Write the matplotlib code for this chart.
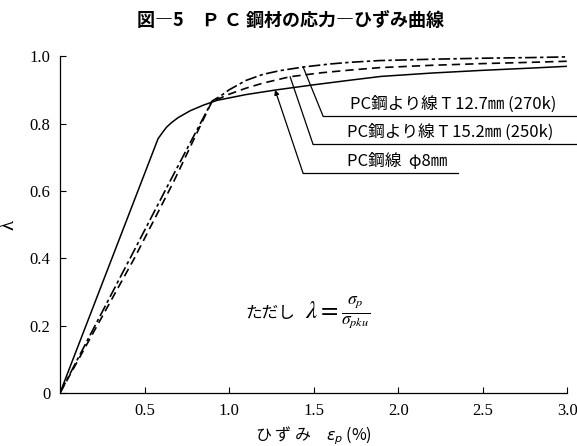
import matplotlib
matplotlib.use("Agg")
import matplotlib.pyplot as plt

# ---- data ----
eps_phi8 = [0, 0.58, 0.61, 0.63, 0.66, 0.70, 0.77, 0.85, 0.93, 1.10, 1.28, 1.50, 1.72, 1.90, 2.20, 2.50, 2.80, 3.00]
lam_phi8 = [0, 0.755, 0.776, 0.789, 0.803, 0.818, 0.838, 0.855, 0.869, 0.886, 0.900, 0.915, 0.929, 0.940, 0.950, 0.958, 0.965, 0.970]

eps_t127 = [0, 0.42, 0.65, 0.90, 0.95, 1.00, 1.10, 1.20, 1.30, 1.44, 1.60, 1.72, 1.89, 2.20, 2.50, 2.80, 3.00]
lam_t127 = [0, 0.405, 0.628, 0.867, 0.882, 0.900, 0.928, 0.946, 0.957, 0.968, 0.977, 0.982, 0.987, 0.991, 0.994, 0.996, 0.998]

eps_t152 = [0, 0.44, 0.67, 0.90, 0.95, 1.00, 1.10, 1.20, 1.36, 1.55, 1.72, 1.89, 2.20, 2.50, 2.80, 3.00]
lam_t152 = [0, 0.40, 0.625, 0.867, 0.876, 0.887, 0.905, 0.920, 0.939, 0.951, 0.959, 0.966, 0.973, 0.978, 0.982, 0.985]

labels = ["PC鋼より線 T 12.7㎜ (270k)", "PC鋼より線 T 15.2㎜ (250k)", "PC鋼線  φ8㎜"]
xticks = [0.5, 1.0, 1.5, 2.0, 2.5, 3.0]
xticklabels = ["0.5", "1.0", "1.5", "2.0", "2.5", "3.0"]
yticks = [0, 0.2, 0.4, 0.6, 0.8, 1.0]
yticklabels = ["0", "0.2", "0.4", "0.6", "0.8", "1.0"]

CJK = ["Noto Sans CJK JP", "DejaVu Sans"]
SERIF = ["Liberation Serif", "DejaVu Serif"]

fig = plt.figure(figsize=(5.77, 4.46), dpi=100)
ax = fig.add_axes([0.104, 0.119, 0.879, 0.755])

ax.plot(eps_phi8, lam_phi8, color="black", lw=1.1, solid_joinstyle="round")
ax.plot(eps_t127, lam_t127, color="black", lw=1.2, dashes=(7, 2, 2, 2))
ax.plot(eps_t152, lam_t152, color="black", lw=1.2, dashes=(5, 3))

ax.set_xlim(0, 3.0)
ax.set_ylim(0, 1.0)
for s in ["top", "right"]:
    ax.spines[s].set_visible(False)
ax.spines["left"].set_linewidth(0.9)
ax.spines["bottom"].set_linewidth(0.9)
ax.tick_params(direction="in", length=4, width=0.8, pad=7)
ax.set_xticks(xticks)
ax.set_xticklabels(xticklabels, fontfamily=SERIF, fontsize=12)
ax.set_yticks(yticks)
ax.set_yticklabels(yticklabels, fontfamily=SERIF, fontsize=12)

ax.set_ylabel("λ", fontfamily=SERIF, fontsize=15)
ax.yaxis.set_label_coords(-0.082, 0.5)
ax.set_xlabel("ひ ず み　$\\varepsilon_p$ (%)", fontfamily=CJK, fontsize=11.5, labelpad=4)

fig.text(0.503, 0.955, "図―5　Ｐ Ｃ 鋼材の応力―ひずみ曲線", ha="center", va="center",
         fontfamily=CJK, fontsize=13, fontweight="bold")

# leaders: (target x, target y, corner x, underline y, underline end x, text x, style)
leaders = [
    (1.438, 0.968, 1.556, 0.822, 3.05, 1.716, "-"),
    (1.361, 0.939, 1.497, 0.738, 3.05, 1.697, "-"),
    (1.272, 0.900, 1.438, 0.652, 2.355, 1.697, "-|>"),
]
for (tx, ty, cx, uy, ex, txx, st), lab in zip(leaders, labels):
    ax.plot([ex, cx], [uy, uy], color="black", lw=0.9, clip_on=False)
    ax.annotate("", xy=(tx, ty), xytext=(cx, uy),
                arrowprops=dict(arrowstyle=st, color="black", lw=0.9,
                                shrinkA=0, shrinkB=0, mutation_scale=7))
    ax.text(txx, uy + 0.01, lab, ha="left", va="bottom",
            fontfamily=CJK, fontsize=12)

ax.text(1.095, 0.237, "ただし", ha="left", va="center", fontfamily=CJK, fontsize=12)
ax.text(1.45, 0.237, r"$\lambda=\frac{\sigma_p}{\sigma_{pku}}$", ha="left", va="center",
        fontsize=18, math_fontfamily="stix")

fig.savefig("out.png", dpi=100)
